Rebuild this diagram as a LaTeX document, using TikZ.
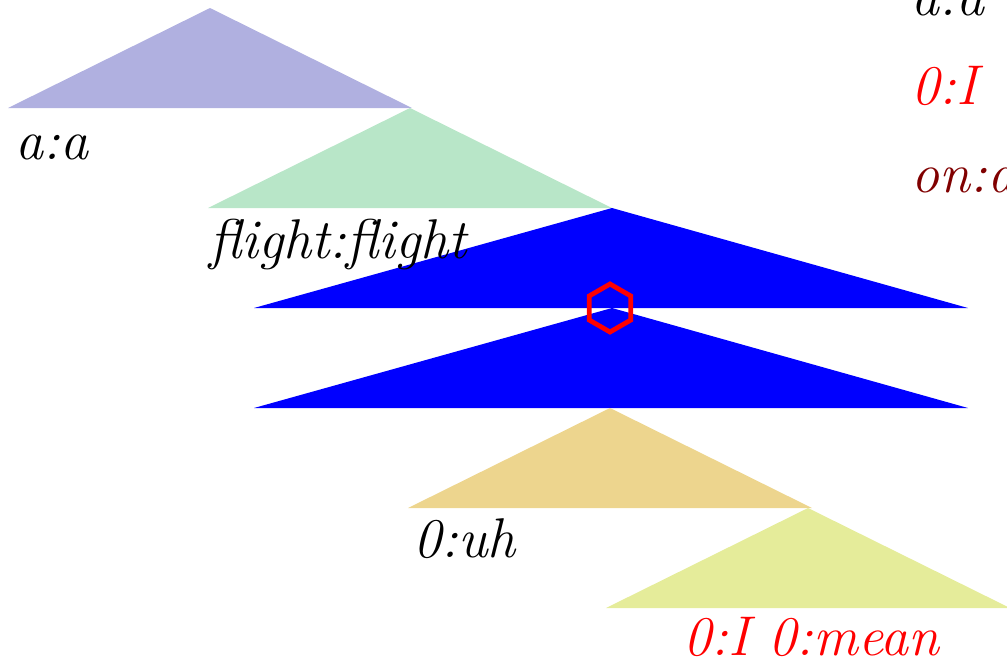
\documentclass[tikz,border=0pt]{standalone}
\usetikzlibrary{calc}
\definecolor{cpurple}{HTML}{B0B0E0}
\definecolor{cgreen}{HTML}{B8E6C8}
\definecolor{cblue}{HTML}{0000FF}
\definecolor{ctan}{HTML}{EDD58E}
\definecolor{cyel}{HTML}{E5EC9A}
\definecolor{cdred}{HTML}{800000}
\begin{document}
\begin{tikzpicture}[x=0.5pt,y=-0.5pt,
  lbl/.style={anchor=base west,inner sep=0pt,font=\fontsize{28}{33}\selectfont\itshape}]
\useasboundingbox (0,0) rectangle (1007,660);
% triangles
\fill[cpurple] (8,108) -- (210,8) -- (412,108) -- cycle;
\fill[cgreen] (208,208) -- (410,108) -- (612,208) -- cycle;
\fill[cblue] (254,308) -- (612,208) -- (968,308) -- cycle;
\fill[cblue] (254,408) -- (612,308) -- (968,408) -- cycle;
\fill[ctan] (408,508) -- (610,408) -- (812,508) -- cycle;
\fill[cyel] (606,608) -- (808,508) -- (1010,608) -- cycle;
% hexagon
\coordinate (hc) at (610,308);
\draw[red,line width=2.4pt,line join=miter] ($(hc)+(0,-24)$) -- ($(hc)+(20.8,-12)$) -- ($(hc)+(20.8,12)$) -- ($(hc)+(0,24)$) -- ($(hc)+(-20.8,12)$) -- ($(hc)+(-20.8,-12)$) -- cycle;
% labels
\node[lbl] (l1) at (15,159) {a:a};
\node[lbl] (l2) at (209,258) {flight:flight};
\node[lbl] (l3) at (413,557) {0:uh};
\node[lbl,text=red] (l4) at (683,655) {0:I 0:mean};
\node[lbl] (r1) at (911,15) {a:a};
\node[lbl,text=red] (r2) at (911,104) {0:I};
\node[lbl,text=cdred] (r3) at (911,192) {on:d};
\end{tikzpicture}
\end{document}
